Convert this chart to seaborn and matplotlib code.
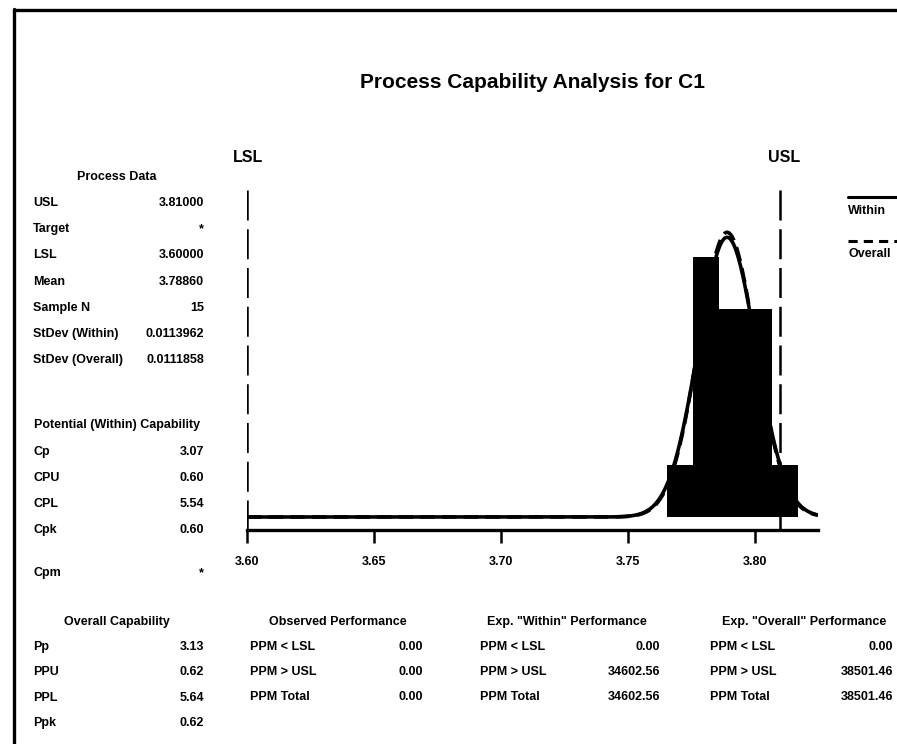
import numpy as np
import matplotlib
matplotlib.use("Agg")
import matplotlib.pyplot as plt
from matplotlib.lines import Line2D
import seaborn as sns

# ---- data ----
bin_edges = [3.7655, 3.77575, 3.786, 3.79625, 3.8065, 3.81675]
bin_counts = [1, 5, 4, 4, 1]
lsl = 3.60
usl = 3.81
mean = 3.7890
sd_within = 0.0114
sd_overall = 0.0112
n_obs = 15
x_ticks = [3.60, 3.65, 3.70, 3.75, 3.80]
x_tick_labels = ["3.60", "3.65", "3.70", "3.75", "3.80"]

process_labels = ["USL", "Target", "LSL", "Mean", "Sample N", "StDev (Within)", "StDev (Overall)"]
process_values = ["3.81000", "*", "3.60000", "3.78860", "15", "0.0113962", "0.0111858"]
within_labels = ["Cp", "CPU", "CPL", "Cpk", "Cpm"]
within_values = ["3.07", "0.60", "5.54", "0.60", "*"]
overall_labels = ["Pp", "PPU", "PPL", "Ppk"]
overall_values = ["3.13", "0.62", "5.64", "0.62"]
perf_labels = ["PPM < LSL", "PPM > USL", "PPM Total"]
observed_values = ["0.00", "0.00", "0.00"]
exp_within_values = ["0.00", "34602.56", "34602.56"]
exp_overall_values = ["0.00", "38501.46", "38501.46"]

sns.set_style("white")
plt.rcParams["font.family"] = ["Liberation Sans", "DejaVu Sans"]
plt.rcParams["text.color"] = "black"
plt.rcParams["xtick.color"] = "black"
plt.rcParams["xtick.labelcolor"] = "black"

W, H = 897, 744
fig = plt.figure(figsize=(W / 100, H / 100), dpi=100)

def fx(px):
    return px / W

def fy(py):
    return 1 - py / H

x_lo, x_hi = 3.60, 3.8248
y_lo, y_hi = -0.25, 6.29
ax = fig.add_axes([fx(247), fy(530), fx(818) - fx(247), fy(190) - fy(530)])

centers = [(a + b) / 2 for a, b in zip(bin_edges[:-1], bin_edges[1:])]
sns.histplot(x=centers, weights=bin_counts, bins=bin_edges, color="black",
             alpha=1, edgecolor="black", linewidth=0, ax=ax)

bw = bin_edges[1] - bin_edges[0]
xs = np.linspace(x_lo, x_hi, 800)
yw = n_obs * bw * np.exp(-0.5 * ((xs - mean) / sd_within) ** 2) / (sd_within * np.sqrt(2 * np.pi))
yo = n_obs * bw * np.exp(-0.5 * ((xs - mean) / sd_overall) ** 2) / (sd_overall * np.sqrt(2 * np.pi))
sns.lineplot(x=xs, y=yw, color="black", linewidth=2.6, ax=ax)
sns.lineplot(x=xs, y=yo, color="black", linewidth=2.6, linestyle=(0, (4, 2)), ax=ax)

for v in (lsl, usl):
    ax.axvline(v, color="black", linewidth=1.8, linestyle=(0, (12, 3.5)))

ax.set_xlim(x_lo, x_hi)
ax.set_ylim(y_lo, y_hi)
ax.set_xticks(x_ticks)
ax.set_xticklabels(x_tick_labels, fontsize=9, fontweight="bold", color="black")
ax.set_yticks([])
ax.set_xlabel("")
ax.set_ylabel("")
for s in ("top", "left", "right"):
    ax.spines[s].set_visible(False)
ax.spines["bottom"].set_linewidth(2.4)
ax.spines["bottom"].set_color("black")
ax.tick_params(axis="x", direction="out", length=9, width=1.8, pad=10, color="black", bottom=True)
ax.patch.set_alpha(0)

# spec labels
fig.text(fx(248), fy(158), "LSL", fontsize=11.5, fontweight="bold", ha="center", va="center", color="black")
fig.text(fx(784), fy(158), "USL", fontsize=11.5, fontweight="bold", ha="center", va="center", color="black")

# title
fig.text(fx(533), fy(83), "Process Capability Analysis for C1", fontsize=15,
         ha="center", va="center", fontweight="bold", color="black")

# legend (Minitab-style: line above label)
fig.add_artist(Line2D([fx(848), fx(897)], [fy(197), fy(197)], color="black", linewidth=2.2))
fig.text(fx(848), fy(211), "Within", fontsize=9, fontweight="bold", ha="left", va="center", color="black")
fig.add_artist(Line2D([fx(848), fx(897)], [fy(241), fy(241)], color="black", linewidth=2.2,
                      linestyle=(0, (3, 2))))
fig.text(fx(848), fy(254), "Overall", fontsize=9, fontweight="bold", ha="left", va="center", color="black")

fs = 9

def table(header, hx, hy, labels, values, lx, vx, ys):
    fig.text(fx(hx), fy(hy), header, fontsize=fs, fontweight="bold", ha="center", va="center", color="black")
    for lab, val, yy in zip(labels, values, ys):
        fig.text(fx(lx), fy(yy), lab, fontsize=fs, fontweight="bold", ha="left", va="center", color="black")
        fig.text(fx(vx), fy(yy), val, fontsize=fs, fontweight="bold", ha="right", va="center", color="black")

table("Process Data", 117, 177, process_labels, process_values, 33, 204,
      [203, 229, 255, 282, 308, 334, 360])
table("Potential (Within) Capability", 117, 425, within_labels, within_values, 33, 204,
      [452, 478, 504, 530, 573])
table("Overall Capability", 117, 622, overall_labels, overall_values, 33, 204,
      [647, 672, 698, 723])
table("Observed Performance", 338, 622, perf_labels, observed_values, 250, 423,
      [647, 672, 697])
table('Exp. "Within" Performance', 567, 622, perf_labels, exp_within_values, 480, 660,
      [647, 672, 697])
table('Exp. "Overall" Performance', 804, 622, perf_labels, exp_overall_values, 710, 893,
      [647, 672, 697])

# page frame
fig.add_artist(Line2D([fx(14), fx(897)], [fy(10), fy(10)], color="black", linewidth=2.4))
fig.add_artist(Line2D([fx(14), fx(14)], [fy(9), fy(744)], color="black", linewidth=2.4))

fig.savefig("out.png", dpi=100, facecolor="white")
